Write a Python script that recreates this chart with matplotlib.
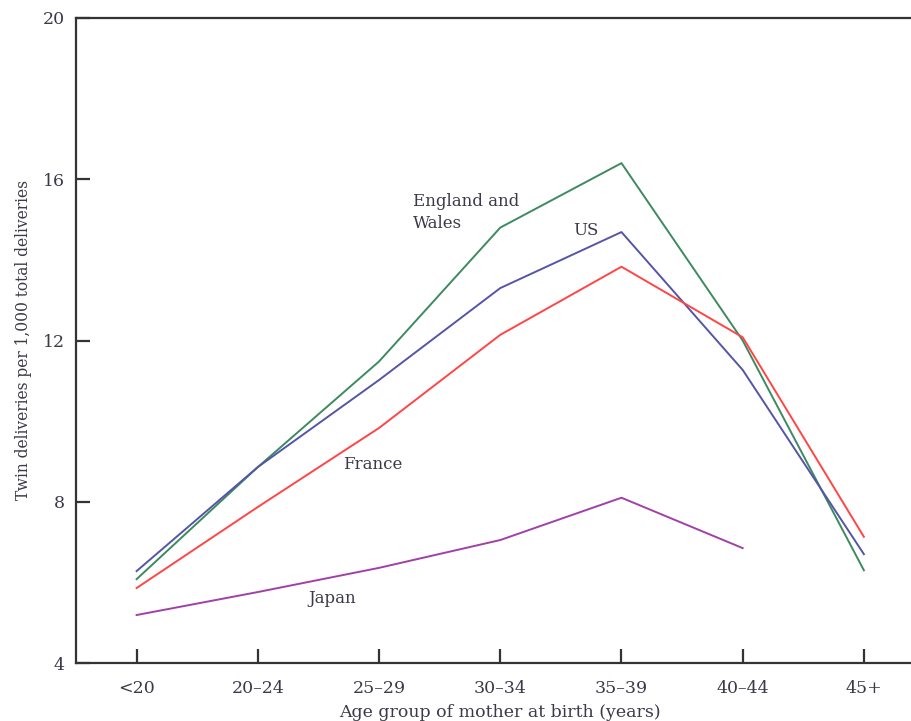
import matplotlib
matplotlib.use("Agg")
import matplotlib.pyplot as plt

# Age groups and twin delivery rates (per 1,000 deliveries)
age_groups = ["<20", "20\u201324", "25\u201329", "30\u201334", "35\u201339", "40\u201344", "45+"]
england_wales = [6.08, 8.86, 11.48, 14.80, 16.40, 12.00, 6.30]
us = [6.28, 8.86, 11.02, 13.30, 14.69, 11.27, 6.70]
france = [5.86, 7.87, 9.83, 12.14, 13.83, 12.08, 7.13]
japan = [5.19, 5.76, 6.36, 7.05, 8.10, 6.85]

text_col = "#3a3a4a"
plt.rcParams["font.family"] = ["DejaVu Serif"]

fig = plt.figure(figsize=(9.11, 7.21), dpi=100)
ax = fig.add_axes([76 / 911, 58 / 721, 848.5 / 911, 645 / 721])

x = range(len(age_groups))
ax.plot(x, england_wales, color="#3d8a60", lw=1.4)
ax.plot(x, us, color="#5555a8", lw=1.4)
ax.plot(x, france, color="#ff4545", lw=1.4)
ax.plot(range(len(japan)), japan, color="#a040a8", lw=1.4)

# Line labels
ax.text(2.28, 15.17, "England and\nWales", fontsize=12, color=text_col,
        ha="left", va="center", linespacing=1.4)
ax.text(3.6, 14.73, "US", fontsize=12, color=text_col, ha="left", va="center")
ax.text(1.7, 8.93, "France", fontsize=12, color=text_col, ha="left", va="center")
ax.text(1.42, 5.6, "Japan", fontsize=12, color=text_col, ha="left", va="center")

ax.set_xlim(-0.5, 6.5)
ax.set_ylim(4, 20)
ax.set_xticks(list(x))
ax.set_xticklabels(age_groups)
ax.set_yticks([4, 8, 12, 16, 20])

for side in ["left", "bottom", "top"]:
    ax.spines[side].set_color("#333333")
    ax.spines[side].set_linewidth(1.6)
ax.spines["right"].set_visible(False)

ax.tick_params(direction="in", length=10, width=1.6, color="#333333",
               labelsize=12.5, labelcolor=text_col)
ax.tick_params(axis="x", pad=12)
ax.tick_params(axis="y", pad=8)

ax.set_xlabel("Age group of mother at birth (years)", fontsize=12.5,
              color=text_col, labelpad=5)
ax.set_ylabel("Twin deliveries per 1,000 total deliveries", fontsize=11.2,
              color=text_col, labelpad=8)

fig.savefig("out.png", dpi=100)
